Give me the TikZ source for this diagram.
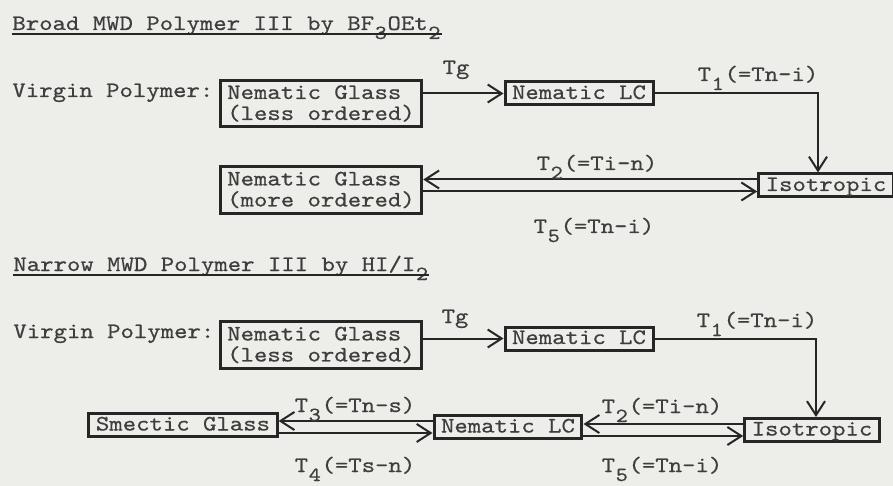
\documentclass[tikz,border=0pt]{standalone}
\usepackage{fontspec}
\newfontfamily\typewr[FakeStretch=1.16,FakeBold=0.6]{lmmono10-regular.otf}
\usetikzlibrary{arrows.meta,calc,positioning}
\definecolor{paper}{RGB}{237,237,233}
\definecolor{ink}{RGB}{62,62,62}
\definecolor{frame}{RGB}{38,38,38}
\newcommand{\lowsub}[1]{\raisebox{-4.5pt}{\makebox[6.7pt]{\fontsize{10}{10}\selectfont #1}}}

\begin{document}
\begin{tikzpicture}[x=0.5pt,y=-0.5pt,>={Straight Barb[length=7pt,width=9pt]},
  every node/.style={font=\typewr\fontsize{11}{10.5}\selectfont,text=ink},
  plain/.style={anchor=base west,inner xsep=0pt},
  tlabel/.style={anchor=base,inner sep=1pt},
  state/.style={draw=frame,line width=1.5pt,inner xsep=3.5pt,inner ysep=2.5pt,align=left},
  single/.style={state,inner ysep=2pt,text height=6.5pt,text depth=1pt},
  trans/.style={->,draw=frame,line width=1pt}]
  \fill[paper] (0,0) rectangle (893,486);
  \useasboundingbox (0,0) rectangle (893,486);

  % broad MWD
  \node[plain] (title1) at (12,30) {Broad MWD Polymer III by BF\lowsub{3}OEt\lowsub{2}};
  \draw[frame,line width=0.8pt] ([yshift=-2pt]title1.base west) -- ([yshift=-2pt]title1.base east);
  \node[plain] (virgin1) at (12,97) {Virgin Polymer:};
  \node[state] (glass1) at (321,103.5) {Nematic Glass\\(less ordered)};
  \node[single] (nlc1) at (579,93.5) {Nematic LC};
  \node[single] (iso1) at (826,185.5) {Isotropic};
  \node[state] (glass1b) at (321,190) {Nematic Glass\\(more ordered)};
  \draw[trans] (glass1.east |- nlc1) -- (nlc1.west);
  \draw[trans] (nlc1.east) -| ([xshift=-4pt]iso1.north);
  \draw[trans] ([yshift=3pt]iso1.west) -- ([yshift=3pt]iso1.west -| glass1b.east);
  \draw[trans] ([yshift=-3pt]iso1.west -| glass1b.east) -- ([yshift=-3pt]iso1.west);
  \node[tlabel] (tg1) at (456,74) {Tg};
  \node[tlabel] (ta1) at (758,81) {T\lowsub{1}(=Tn-i)};
  \node[tlabel] (tb1) at (597,170) {T\lowsub{2}(=Ti-n)};
  \node[tlabel] (te1) at (594,233) {T\lowsub{5}(=Tn-i)};

  % narrow MWD
  \node[plain] (title2) at (13,271) {Narrow MWD Polymer III by HI/I\lowsub{2}};
  \draw[frame,line width=0.8pt] ([yshift=-2pt]title2.base west) -- ([yshift=-2pt]title2.base east);
  \node[plain] (virgin2) at (13,338) {Virgin Polymer:};
  \node[state] (glass2) at (321,345) {Nematic Glass\\(less ordered)};
  \node[single] (nlc2) at (579,338.5) {Nematic LC};
  \node[single] (iso2) at (812,430) {Isotropic};
  \node[single] (nlc3) at (508,427) {Nematic LC};
  \node[single] (smec) at (183,425) {Smectic Glass};
  \draw[trans] (glass2.east |- nlc2) -- (nlc2.west);
  \draw[trans] (nlc2.east) -| ([xshift=2pt]iso2.north);
  \draw[trans] ([yshift=3pt]iso2.west) -- ([yshift=3pt]iso2.west -| nlc3.east);
  \draw[trans] ([yshift=-3pt]iso2.west -| nlc3.east) -- ([yshift=-3pt]iso2.west);
  \draw[trans] ([yshift=3pt]nlc3.west) -- ([yshift=3pt]nlc3.west -| smec.east);
  \draw[trans] ([yshift=-3pt]nlc3.west -| smec.east) -- ([yshift=-3pt]nlc3.west);
  \node[tlabel] (tg2) at (455,323) {Tg};
  \node[tlabel] (ta2) at (757,327) {T\lowsub{1}(=Tn-i)};
  \node[tlabel] (tc2) at (355,412) {T\lowsub{3}(=Tn-s)};
  \node[tlabel] (td2) at (355,472) {T\lowsub{4}(=Ts-n)};
  \node[tlabel] (tb2) at (662,413) {T\lowsub{2}(=Ti-n)};
  \node[tlabel] (te2) at (662,472) {T\lowsub{5}(=Tn-i)};
\end{tikzpicture}
\end{document}
